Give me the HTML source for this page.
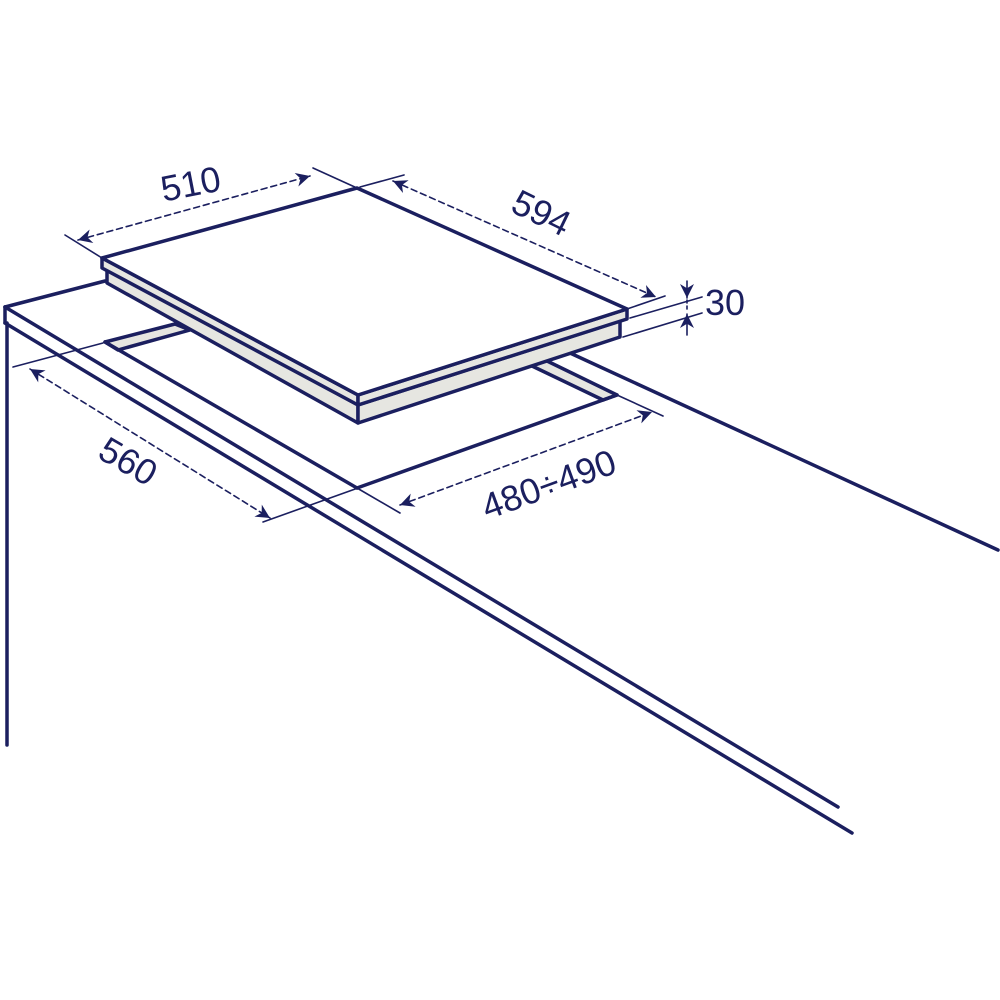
<!DOCTYPE html>
<html><head><style>body{margin:0;background:#fff}svg{display:block}</style></head>
<body>
<svg width="1000" height="1000" viewBox="0 0 1000 1000" xmlns="http://www.w3.org/2000/svg">
<defs>
<marker id="a" viewBox="0 0 10 10" refX="10" refY="5" markerWidth="9" markerHeight="9" orient="auto-start-reverse" markerUnits="userSpaceOnUse"><path d="M0,0 L10,5 L0,10 L3,5 Z" fill="#1b1f5f"/></marker>
<marker id="b" viewBox="0 0 10 10" refX="10" refY="5" markerWidth="16" markerHeight="14" orient="auto-start-reverse" markerUnits="userSpaceOnUse"><path d="M0,0 L10,5 L0,10 L3,5 Z" fill="#1b1f5f"/></marker>
</defs>
<g stroke="#1b1f5f" fill="none" stroke-linecap="round" stroke-linejoin="round">
<!-- counter -->
<g stroke-width="3.5">
<line x1="5" y1="307" x2="105" y2="281"/>
<line x1="5" y1="307" x2="5" y2="323"/>
<line x1="7" y1="323" x2="7" y2="745"/>
<line x1="5" y1="307" x2="838" y2="807"/>
<line x1="5" y1="323" x2="852" y2="833"/>
<line x1="570" y1="353" x2="998" y2="550"/>
<!-- cutout -->
<polygon points="105,342 175,324 190,330 118,350" fill="#e6e6e1"/>
<polygon points="532,366 545,360 617,395 603,400" fill="#e6e6e1"/>
<line x1="105" y1="342" x2="357" y2="488"/>
<line x1="357" y1="488" x2="617" y2="395"/>
</g>
<!-- hob -->
<g stroke-width="3.5" fill="#e6e6e1">
<polygon points="107,268 358,405 358,423 107,283"/>
<polygon points="358,405 620,321 620,337 358,423"/>
<polygon points="102,258 358,395 358,405 102,268"/>
<polygon points="358,395 627,309 627,319 358,405"/>
<polygon points="102,258 357,188 627,309 358,395" fill="#fff"/>
</g>
<!-- dimension lines -->
<g stroke-width="1.6">
<line x1="65" y1="235" x2="102" y2="258"/>
<line x1="313" y1="168" x2="357" y2="188"/>
<line x1="78" y1="240" x2="310" y2="176" stroke-dasharray="6,4" marker-start="url(#b)" marker-end="url(#b)"/>
<line x1="360" y1="187" x2="404" y2="175"/>
<line x1="627" y1="309" x2="665" y2="296"/>
<line x1="393" y1="181" x2="656" y2="297" stroke-dasharray="6,4" marker-start="url(#b)" marker-end="url(#b)"/>
<line x1="630" y1="318" x2="702" y2="297"/>
<line x1="623" y1="337" x2="702" y2="313"/>
<line x1="687" y1="281" x2="687" y2="298" marker-end="url(#b)"/>
<line x1="687" y1="335" x2="687" y2="314" marker-end="url(#b)"/>
<line x1="687" y1="300" x2="687" y2="312" stroke-dasharray="3,3"/>
<line x1="13" y1="367" x2="103" y2="343"/>
<line x1="30" y1="369" x2="270" y2="518" stroke-dasharray="6,4" marker-start="url(#b)" marker-end="url(#b)"/>
<line x1="263" y1="522" x2="358" y2="488"/>
<line x1="617" y1="395" x2="663" y2="416"/>
<line x1="357" y1="488" x2="400" y2="513"/>
<line x1="400" y1="505" x2="652" y2="412" stroke-dasharray="6,4" marker-start="url(#b)" marker-end="url(#b)"/>
</g>
</g>
<g fill="#1b1f5f" font-family="Liberation Sans, sans-serif" font-size="36" text-anchor="middle">
<text transform="translate(193,196) rotate(-11)">510</text>
<text transform="translate(536,224) rotate(26)">594</text>
<text x="725" y="315">30</text>
<text transform="translate(122,472) rotate(30)">560</text>
<text transform="translate(553,496) rotate(-20)">480÷490</text>
</g>
</svg>
</body></html>
